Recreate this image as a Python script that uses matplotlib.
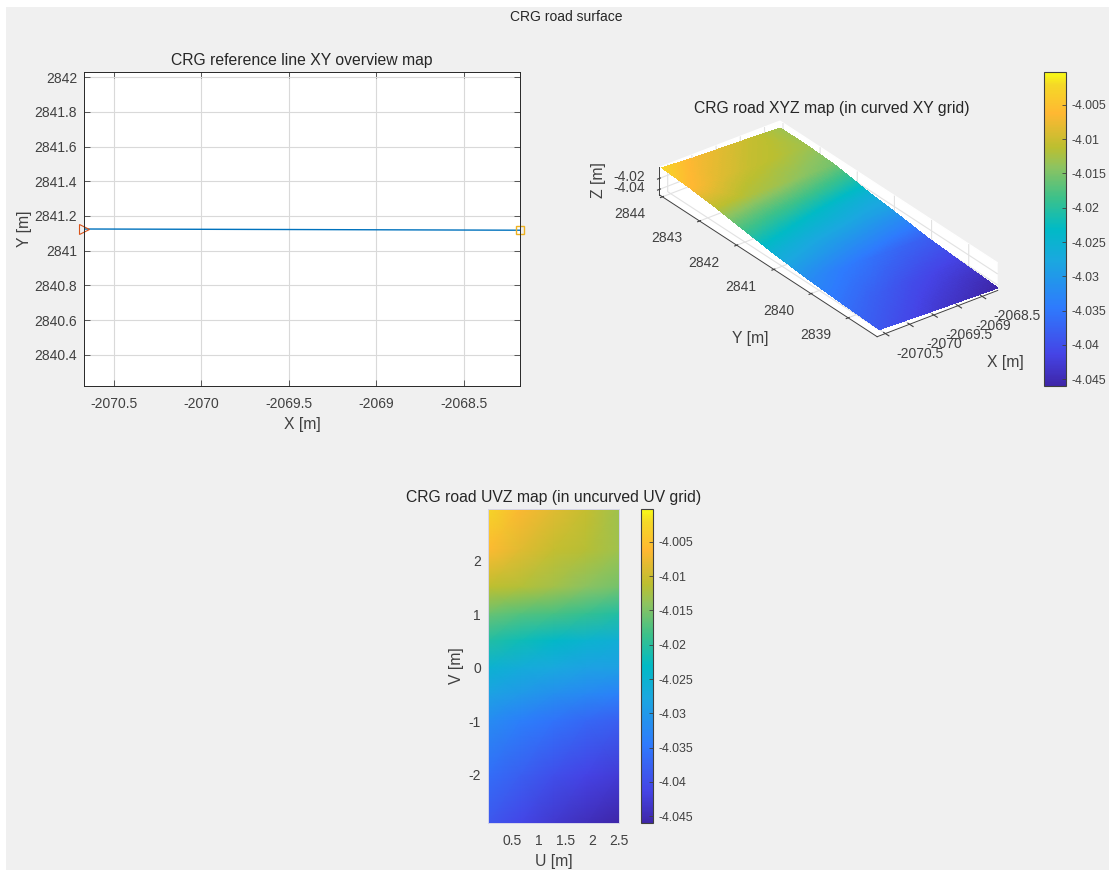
import numpy as np
import matplotlib
matplotlib.use("Agg")
import matplotlib.pyplot as plt
import matplotlib.tri as mtri
from matplotlib.colors import LinearSegmentedColormap, Normalize
from matplotlib.cm import ScalarMappable
from matplotlib.patches import Rectangle

plt.rcParams['font.family'] = ['Liberation Sans', 'DejaVu Sans']

W, H = 1109, 872
gray = '#f0f0f0'
dark = '#404040'

# reference line
line_x = [-2070.67, -2069.5, -2068.18]
line_y = [2841.125, 2841.122, 2841.118]

# road surface, rows go with v_vals, columns with u_vals
u_vals = [0.05, 0.66, 1.28, 1.89, 2.5]
v_vals = [2.96, 2.2, 1.5, 1.0, 0.5, 0.0, -0.5, -1.0, -2.0, -2.9]
z_vals = [
    [-4.0025, -4.0065, -4.0085, -4.0105, -4.0130],
    [-4.0060, -4.0085, -4.0105, -4.0115, -4.0130],
    [-4.0110, -4.0118, -4.0128, -4.0142, -4.0155],
    [-4.0160, -4.0172, -4.0180, -4.0192, -4.0205],
    [-4.0205, -4.0220, -4.0235, -4.0250, -4.0260],
    [-4.0252, -4.0265, -4.0275, -4.0285, -4.0290],
    [-4.0285, -4.0300, -4.0315, -4.0325, -4.0335],
    [-4.0320, -4.0340, -4.0355, -4.0370, -4.0380],
    [-4.0360, -4.0380, -4.0400, -4.0415, -4.0425],
    [-4.0390, -4.0410, -4.0430, -4.0445, -4.0460],
]
z_min, z_max = -4.046, -4.0002
z_ticks = [-4.045, -4.04, -4.035, -4.03, -4.025, -4.02, -4.015, -4.01, -4.005]
z_labels = ['-4.045', '-4.04', '-4.035', '-4.03', '-4.025', '-4.02', '-4.015', '-4.01', '-4.005']

# parula
cmap_pos = [0.0, 0.1, 0.25, 0.4, 0.5, 0.6, 0.7, 0.76, 0.87, 0.96, 1.0]
cmap_col = ['#3e26a8', '#4544e6', '#2e7bfd', '#1aa8df', '#00bac6', '#3cc18a',
            '#8fc35f', '#bbbf30', '#ffb832', '#f5d827', '#f9fb15']
parula = LinearSegmentedColormap.from_list('parula', list(zip(cmap_pos, cmap_col)), N=256)
norm = Normalize(z_min, z_max)


def add_axes_px(left, top, right, bottom, **kw):
    return fig.add_axes([left / W, 1 - bottom / H, (right - left) / W, (bottom - top) / H], **kw)


def style_2d(ax):
    ax.tick_params(direction='in', length=4, width=0.6, top=True, right=True, colors=dark, labelsize=10)
    ax.tick_params(axis='x', pad=8)
    ax.tick_params(axis='y', pad=5)
    for s in ax.spines.values():
        s.set_linewidth(0.7)
        s.set_color('#262626')


def add_colorbar(left, top, right, bottom):
    cax = add_axes_px(left, top, right, bottom)
    cb = fig.colorbar(ScalarMappable(norm=norm, cmap=parula), cax=cax)
    cb.set_ticks(z_ticks, labels=z_labels)
    cb.ax.tick_params(direction='in', length=3, width=0.6, colors=dark, labelsize=8.9, pad=4)
    cb.outline.set_linewidth(0.8)
    cb.outline.set_edgecolor('#404040')


fig = plt.figure(figsize=(W / 100, H / 100), dpi=100, facecolor='white')
fig.add_artist(Rectangle((6 / W, 0.002), 1 - 6 / W, 1 - 7 / H - 0.002, transform=fig.transFigure,
                         facecolor=gray, edgecolor='none', zorder=-10))
fig.text(566 / W, 1 - 17 / H, 'CRG road surface', ha='center', va='center', fontsize=10, color='#262626')

# XY overview
ax1 = add_axes_px(84, 72, 520, 386)
ax1.plot(line_x, line_y, color='#0072bd', lw=1)
ax1.plot(line_x[0], line_y[0], '>', mfc='none', mec='#d95319', ms=6.5, mew=0.8, clip_on=False)
ax1.plot(line_x[-1], line_y[-1], 's', mfc='none', mec='#edb120', ms=5.5, mew=1, clip_on=False)
ax1.set_xlim(-2070.67, -2068.18)
ax1.set_ylim(2840.22, 2842.03)
ax1.set_xticks([-2070.5, -2070, -2069.5, -2069, -2068.5], ['-2070.5', '-2070', '-2069.5', '-2069', '-2068.5'])
ax1.set_yticks([2840.4, 2840.6, 2840.8, 2841, 2841.2, 2841.4, 2841.6, 2841.8, 2842],
               ['2840.4', '2840.6', '2840.8', '2841', '2841.2', '2841.4', '2841.6', '2841.8', '2842'])
ax1.grid(color='#d9d9d9', lw=0.8)
ax1.set_axisbelow(True)
style_2d(ax1)
ax1.set_xlabel('X [m]', fontsize=11.3, color=dark, labelpad=4)
ax1.set_ylabel('Y [m]', fontsize=11.3, color=dark, labelpad=2)
ax1.set_title('CRG reference line XY overview map', fontsize=11.3, color='#262626', pad=5)

# XYZ surface
x0, y0 = line_x[0], line_y[0]
U, V = np.meshgrid(u_vals, v_vals)
Z = np.array(z_vals)
X = x0 + U
Y = y0 + V

# square axes, otherwise the 3d box is shrunk to a square and clips the road
ax2 = add_axes_px(597.5, 10, 1047.5, 460, projection='3d', facecolor='none')
ax2.set_proj_type('ortho')
ax2.view_init(elev=30, azim=-127.5)
ax2.set_box_aspect((2.49, 5.86, 0.52), zoom=0.841)
# finer triangles only so the colour runs smoothly across the road
tri = mtri.Triangulation(X.ravel(), Y.ravel())
refiner = mtri.UniformTriRefiner(tri)
tri_f, z_f = refiner.refine_field(Z.ravel(), mtri.LinearTriInterpolator(tri, Z.ravel()), subdiv=4)
ax2.plot_trisurf(tri_f, z_f, cmap=parula, norm=norm, linewidth=0, antialiased=False)
ax2.set_xlim(-2070.67, -2068.18)
ax2.set_ylim(2838.22, 2844.08)
ax2.set_zlim(-4.05, -4.0)
ax2.set_xticks([-2070.5, -2070, -2069.5, -2069, -2068.5], ['-2070.5', '-2070', '-2069.5', '-2069', '-2068.5'])
ax2.set_yticks([2839, 2840, 2841, 2842, 2843, 2844], ['2839', '2840', '2841', '2842', '2843', '2844'])
ax2.set_zticks([-4.04, -4.02], ['-4.04', '-4.02'])
ax2.tick_params(colors=dark, labelsize=10)
ax2.tick_params(axis='x', pad=19)
ax2.tick_params(axis='y', pad=16)
ax2.tick_params(axis='z', pad=7)
for lab in ax2.get_xticklabels():
    lab.set_va('bottom')
for lab in ax2.get_yticklabels():
    lab.set_ha('right')
for a in (ax2.xaxis, ax2.yaxis, ax2.zaxis):
    a.set_pane_color((1, 1, 1, 1))
    a._axinfo['grid']['color'] = '#e2e2e2'
    a._axinfo['grid']['linewidth'] = 0.8
    a.line.set_color('#404040')
    a.line.set_linewidth(0.7)
for txt, px, py, rot in [('X [m]', 1005, 362, 0), ('Y [m]', 750, 338, 0), ('Z [m]', 598, 180, 90)]:
    ax2.text2D(px / W, 1 - py / H, txt, transform=fig.transFigure, ha='center', va='center', rotation=rot,
               fontsize=11.3, color=dark)
fig.text(832 / W, 1 - 108 / H, 'CRG road XYZ map (in curved XY grid)', ha='center', va='center',
         fontsize=11.3, color='#262626')
add_colorbar(1044, 72, 1066, 386)

# UVZ map
ax3 = add_axes_px(488, 509, 619, 823)
ax3.pcolormesh(U, V, Z, shading='gouraud', cmap=parula, norm=norm)
ax3.set_xlim(0.05, 2.5)
ax3.set_ylim(-2.9, 2.96)
ax3.set_xticks([0.5, 1, 1.5, 2, 2.5], ['0.5', '1', '1.5', '2', '2.5'])
ax3.set_yticks([-2, -1, 0, 1, 2], ['-2', '-1', '0', '1', '2'])
style_2d(ax3)
ax3.tick_params(length=0)
for s in ax3.spines.values():
    s.set_color('#d5d5ea')
ax3.set_xlabel('U [m]', fontsize=11.3, color=dark, labelpad=4)
ax3.set_ylabel('V [m]', fontsize=11.3, color=dark, labelpad=3)
ax3.set_title('CRG road UVZ map (in uncurved UV grid)', fontsize=11.3, color='#262626', pad=5)
add_colorbar(641, 509, 653, 823)

fig.savefig('out.png', dpi=100, facecolor=fig.get_facecolor())
